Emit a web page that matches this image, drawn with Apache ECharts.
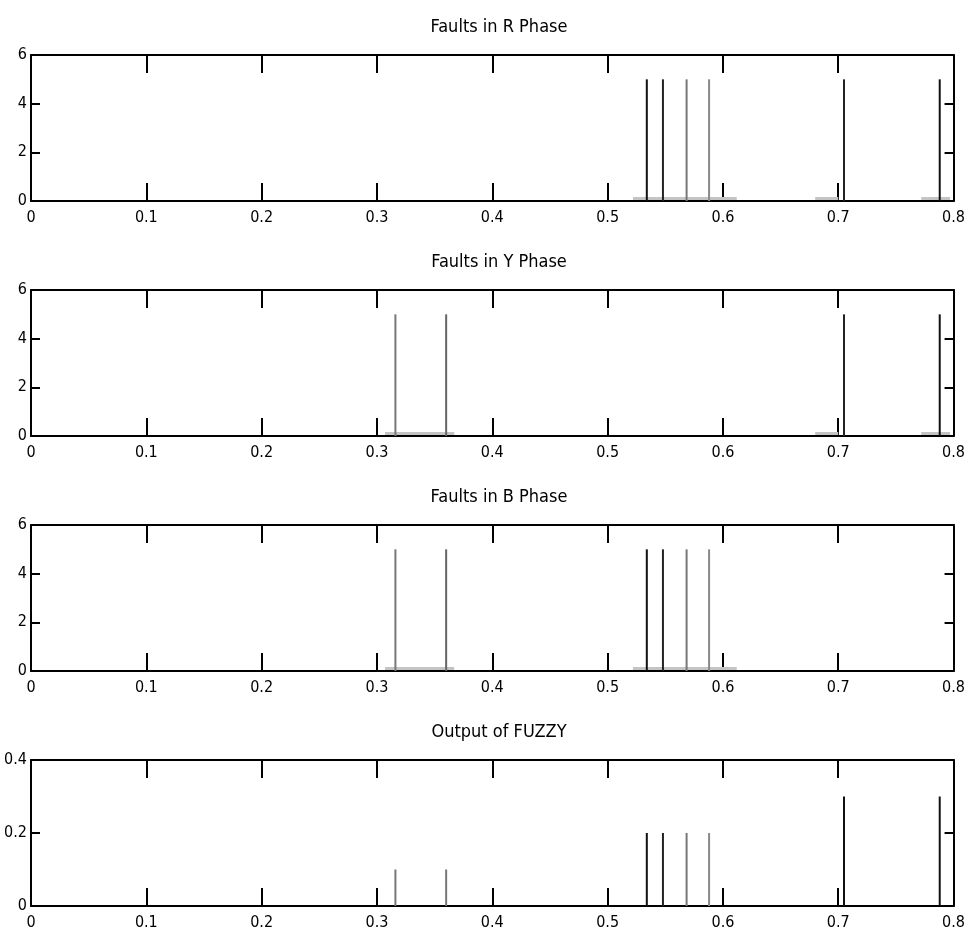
<!DOCTYPE html>
<html>
<head>
<meta charset="utf-8">
<script src="https://cdn.jsdelivr.net/npm/echarts@6/dist/echarts.min.js"></script>
<style>
html,body{margin:0;padding:0;background:#fff;}
#chart{width:968px;height:936px;}
</style>
</head>
<body>
<div id="chart"></div>
<script>
// ---- data ----
const titles = ['Faults in R Phase', 'Faults in Y Phase', 'Faults in B Phase', 'Output of FUZZY'];
const xTickLabels = ['0', '0.1', '0.2', '0.3', '0.4', '0.5', '0.6', '0.7', '0.8'];
const faultYTicks = [0, 2, 4, 6];
const fuzzyYTicks = [0, 0.2, 0.4];

const rTimes = [0.534, 0.548, 0.5685, 0.588, 0.705, 0.788];
const rValues = [5, 5, 5, 5, 5, 5];
const rNoise = [[0.522, 0.612], [0.68, 0.70], [0.772, 0.797]];

const yTimes = [0.316, 0.36, 0.705, 0.788];
const yValues = [5, 5, 5, 5];
const yNoise = [[0.307, 0.367], [0.68, 0.70], [0.772, 0.797]];

const bTimes = [0.316, 0.36, 0.534, 0.548, 0.5685, 0.588];
const bValues = [5, 5, 5, 5, 5, 5];
const bNoise = [[0.307, 0.367], [0.522, 0.612]];

const fTimes = [0.316, 0.36, 0.534, 0.548, 0.5685, 0.588, 0.705, 0.788];
const fValues = [0.1, 0.1, 0.2, 0.2, 0.2, 0.2, 0.3, 0.3];
const fNoise = [];

const noiseLevel = [0.12, 0.12, 0.12, 0];

// ---- styles (separate from data) ----
const rShade = ['#111', '#222', '#777', '#888', '#222', '#111'];
const yShade = ['#777', '#666', '#222', '#111'];
const bShade = ['#777', '#666', '#111', '#222', '#777', '#888'];
const fShade = ['#777', '#777', '#111', '#222', '#777', '#888', '#111', '#111'];

const FONT = "'Liberation Sans Narrow', 'DejaVu Sans Condensed', 'Liberation Sans', sans-serif";

const panels = [
  {times: rTimes, values: rValues, noise: rNoise, shade: rShade, yTicks: faultYTicks},
  {times: yTimes, values: yValues, noise: yNoise, shade: yShade, yTicks: faultYTicks},
  {times: bTimes, values: bValues, noise: bNoise, shade: bShade, yTicks: faultYTicks},
  {times: fTimes, values: fValues, noise: fNoise, shade: fShade, yTicks: fuzzyYTicks}
];

const gridTops = [55, 290, 525, 760];
const gridH = 146;

const grids = [], xAxes = [], yAxes = [], series = [], titleOpts = [];
panels.forEach((p, i) => {
  grids.push({left: 31, right: 10, top: gridTops[i], height: gridH, containLabel: false});
  titleOpts.push({
    text: titles[i], left: 494, textAlign: 'center', top: gridTops[i] - 42,
    textStyle: {fontFamily: FONT, fontSize: 18, fontWeight: 'normal', color: '#000'}
  });
  const xMin = 0, xMax = 0.8, xInt = 0.1;
  const yMin = p.yTicks[0], yMax = p.yTicks[p.yTicks.length - 1], yInt = p.yTicks[1] - p.yTicks[0];
  const axLine = {show: true, onZero: false, lineStyle: {color: '#000', width: 2}};
  // bottom x
  xAxes.push({
    type: 'value', gridIndex: i, position: 'bottom', min: xMin, max: xMax, interval: xInt,
    axisLine: axLine,
    axisTick: {show: true, inside: true, length: 18, lineStyle: {color: '#000', width: 2}},
    axisLabel: {show: true, margin: 9, fontFamily: FONT, fontSize: 16, color: '#000',
      formatter: v => xTickLabels[Math.round(v * 10)]},
    splitLine: {show: false}
  });
  // top x
  xAxes.push({
    type: 'value', gridIndex: i, position: 'top', min: xMin, max: xMax, interval: xInt,
    axisLine: axLine,
    axisTick: {show: true, inside: true, length: 18, lineStyle: {color: '#000', width: 2}},
    axisLabel: {show: false}, splitLine: {show: false}
  });
  // left y
  yAxes.push({
    type: 'value', gridIndex: i, position: 'left', min: yMin, max: yMax, interval: yInt,
    axisLine: axLine,
    axisTick: {show: true, inside: true, length: 9, lineStyle: {color: '#000', width: 2}},
    axisLabel: {show: true, margin: 4, fontFamily: FONT, fontSize: 16, color: '#000',
      formatter: v => String(parseFloat(v.toFixed(2)))},
    splitLine: {show: false}
  });
  // right y
  yAxes.push({
    type: 'value', gridIndex: i, position: 'right', min: yMin, max: yMax, interval: yInt,
    axisLine: axLine,
    axisTick: {show: true, inside: true, length: 9, lineStyle: {color: '#000', width: 2}},
    axisLabel: {show: false}, splitLine: {show: false}
  });

  if (p.noise.length) {
    series.push({
      type: 'lines', coordinateSystem: 'cartesian2d', xAxisIndex: 2 * i, yAxisIndex: 2 * i,
      polyline: false, silent: true, z: 1,
      lineStyle: {color: '#c4c4c4', width: 3, opacity: 1},
      data: p.noise.map(seg => ({coords: [[seg[0], noiseLevel[i]], [seg[1], noiseLevel[i]]]}))
    });
  }
  series.push({
    type: 'bar', xAxisIndex: 2 * i, yAxisIndex: 2 * i, barWidth: 2, z: 3,
    animation: false,
    data: p.times.map((t, k) => ({value: [t, p.values[k]], itemStyle: {color: p.shade[k]}}))
  });
});

const chart = echarts.init(document.getElementById('chart'), null, {renderer: 'canvas'});
chart.setOption({
  animation: false,
  backgroundColor: '#fff',
  title: titleOpts,
  grid: grids,
  xAxis: xAxes,
  yAxis: yAxes,
  series: series
});
</script>
</body>
</html>
